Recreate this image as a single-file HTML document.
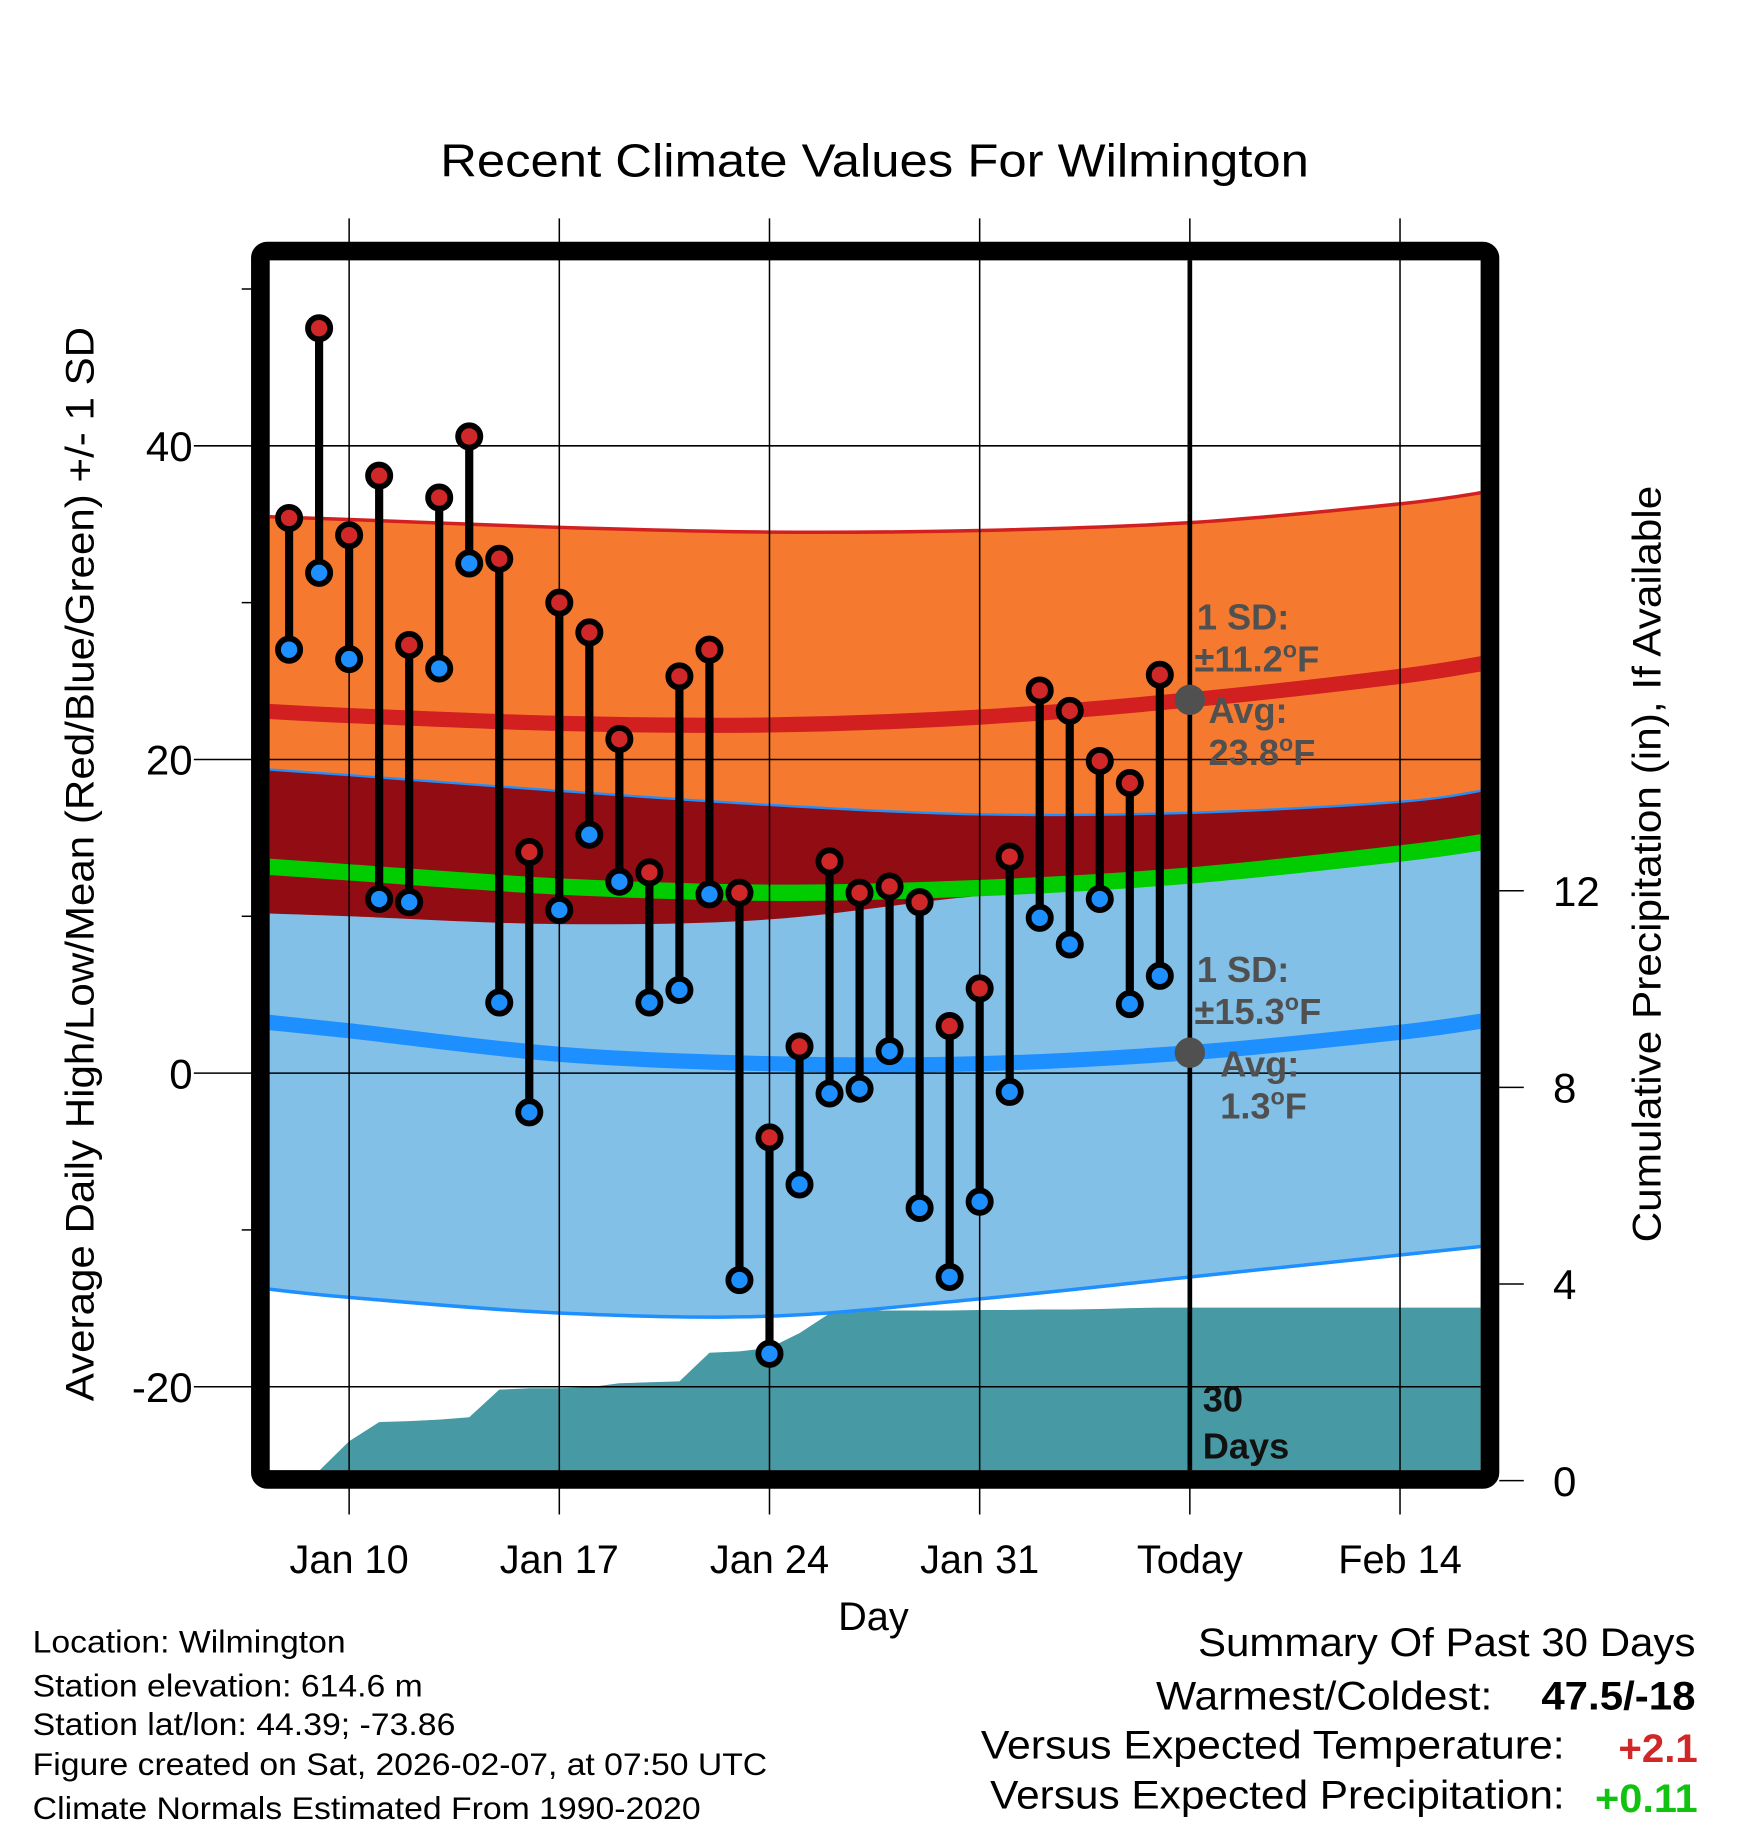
<!DOCTYPE html>
<html><head><meta charset="utf-8"><style>
html,body{margin:0;padding:0;background:#fff}
svg{display:block;font-family:"Liberation Sans",Arial,sans-serif}
</style></head><body>
<svg id="chart" width="1748" height="1828" viewBox="0 0 1497 1565.5" preserveAspectRatio="none" xmlns="http://www.w3.org/2000/svg">
<defs><clipPath id="plotclip"><rect x="231" y="223" width="1037" height="1036"/></clipPath></defs>
<rect x="0" y="0" width="1497" height="1566" fill="#fff"/>
<text x="749" y="151" font-size="40" text-anchor="middle" textLength="744" lengthAdjust="spacingAndGlyphs">Recent Climate Values For Wilmington</text>
<g id="fills" clip-path="url(#plotclip)"></g>
<g id="grid"></g>
<g id="marks" clip-path="url(#plotclip)"></g>
<g id="annot"></g>
<rect x="223" y="215" width="1053" height="1052" rx="6" fill="none" stroke="#000" stroke-width="16"/>
<g id="axes"></g>
<text x="748" y="1396" font-size="34" text-anchor="middle">Day</text>
<text transform="translate(80,740) rotate(-90)" font-size="34" text-anchor="middle" textLength="920" lengthAdjust="spacingAndGlyphs">Average Daily High/Low/Mean (Red/Blue/Green) +/- 1 SD</text>
<text transform="translate(1422,740) rotate(-90)" font-size="34" text-anchor="middle" textLength="648" lengthAdjust="spacingAndGlyphs">Cumulative Precipitation (in), If Available</text>
<g font-size="27">
<text x="28" y="1415" textLength="268" lengthAdjust="spacingAndGlyphs">Location: Wilmington</text>
<text x="28" y="1453" textLength="334" lengthAdjust="spacingAndGlyphs">Station elevation: 614.6 m</text>
<text x="28" y="1486" textLength="362" lengthAdjust="spacingAndGlyphs">Station lat/lon: 44.39; -73.86</text>
<text x="28" y="1520" textLength="629" lengthAdjust="spacingAndGlyphs">Figure created on Sat, 2026-02-07, at 07:50 UTC</text>
<text x="28" y="1558" textLength="572" lengthAdjust="spacingAndGlyphs">Climate Normals Estimated From 1990-2020</text>
</g>
<g font-size="34">
<text x="1452" y="1418" text-anchor="end" textLength="426" lengthAdjust="spacingAndGlyphs">Summary Of Past 30 Days</text>
<text x="1278" y="1464" text-anchor="end" textLength="288" lengthAdjust="spacingAndGlyphs">Warmest/Coldest:</text>
<text x="1452" y="1464" text-anchor="end" font-weight="bold" textLength="132" lengthAdjust="spacingAndGlyphs">47.5/-18</text>
<text x="1340" y="1506" text-anchor="end" textLength="500" lengthAdjust="spacingAndGlyphs">Versus Expected Temperature:</text>
<text x="1454" y="1509" text-anchor="end" font-weight="bold" fill="#d02828" textLength="68" lengthAdjust="spacingAndGlyphs">+2.1</text>
<text x="1340" y="1549" text-anchor="end" textLength="492" lengthAdjust="spacingAndGlyphs">Versus Expected Precipitation:</text>
<text x="1454" y="1552" text-anchor="end" font-weight="bold" fill="#11c211" textLength="88" lengthAdjust="spacingAndGlyphs">+0.11</text>
</g>
</svg>
<script>
// ---- data ----
const obsDays = ["Jan 8","Jan 9","Jan 10","Jan 11","Jan 12","Jan 13","Jan 14","Jan 15","Jan 16","Jan 17","Jan 18","Jan 19","Jan 20","Jan 21","Jan 22","Jan 23","Jan 24","Jan 25","Jan 26","Jan 27","Jan 28","Jan 29","Jan 30","Jan 31","Feb 1","Feb 2","Feb 3","Feb 4","Feb 5","Feb 6"];
const highs = [35.4,47.5,34.3,38.1,27.3,36.7,40.6,32.8,14.1,30.0,28.1,21.3,12.8,25.3,27.0,11.5,-4.1,1.7,13.5,11.5,11.9,10.9,3.0,5.4,13.8,24.4,23.1,19.9,18.5,25.4];
const lows = [27.0,31.9,26.4,11.1,10.9,25.8,32.5,4.5,-2.5,10.4,15.2,12.2,4.5,5.3,11.4,-13.2,-17.9,-7.1,-1.3,-1.0,1.4,-8.6,-13.0,-8.2,-1.2,9.9,8.2,11.1,4.4,6.2];
const precip = [0,0.2,0.8,1.19,1.21,1.24,1.29,1.85,1.88,1.88,1.9,1.98,2.0,2.02,2.6,2.63,2.7,3.0,3.4,3.46,3.46,3.46,3.46,3.47,3.47,3.48,3.48,3.49,3.51,3.52];
const normDays = [-3,0,7,14,21,28,35,38];
const highMean = [23.1,22.8,22.3,22.2,22.7,23.8,25.3,26.2];
const highUpper = [35.5,35.3,34.8,34.5,34.6,35.1,36.3,37.1];
const highLower = [10.2,10.0,9.5,9.8,11.3,12.1,13.5,14.3];
const meanLine = [13.2,12.8,11.9,11.5,11.8,12.6,14.0,14.8];
const lowMean = [3.3,2.7,1.2,0.6,0.6,1.3,2.6,3.4];
const lowUpper = [19.4,19.0,18.0,17.1,16.5,16.6,17.3,18.1];
const lowLower = [-13.7,-14.3,-15.3,-15.5,-14.4,-13.0,-11.6,-11.0];
const xTickLabels = ["Jan 10","Jan 17","Jan 24","Jan 31","Today","Feb 14"];
const xTickDays = [0,7,14,21,28,35];
const yTicks = [-20,0,20,40];
const yMinor = [-10,10,30,50];
const pTicks = [0,4,8,12];
const todayDay = 28;

// ---- axes ----
const X = d => 299 + d*25.714;
const Y = v => 919 - v*13.43;
const P = v => 1268 - v*42.1;
const NS = "http://www.w3.org/2000/svg";
function mk(tag, parent, attrs){const e=document.createElementNS(NS,tag);for(const k in attrs)e.setAttribute(k,attrs[k]);parent.appendChild(e);return e;}
const fills=document.getElementById('fills'), grid=document.getElementById('grid'), marks=document.getElementById('marks'), axes=document.getElementById('axes'), annot=document.getElementById('annot');

function smooth(pts, start){
  let s = start ? "M"+pts[0][0]+","+pts[0][1] : "L"+pts[0][0]+","+pts[0][1];
  for(let i=0;i<pts.length-1;i++){
    const p0=pts[Math.max(0,i-1)], p1=pts[i], p2=pts[i+1], p3=pts[Math.min(pts.length-1,i+2)];
    const c1x=p1[0]+(p2[0]-p0[0])/6, c1y=p1[1]+(p2[1]-p0[1])/6;
    const c2x=p2[0]-(p3[0]-p1[0])/6, c2y=p2[1]-(p3[1]-p1[1])/6;
    s+="C"+c1x+","+c1y+" "+c2x+","+c2y+" "+p2[0]+","+p2[1];
  }
  return s;
}
function pts(arr){return normDays.map((d,i)=>[X(d),Y(arr[i])]);}
function band(up, lo){return smooth(pts(up),true)+smooth(pts(lo).reverse(),false)+"Z";}
function line(arr){return smooth(pts(arr),true);}

let e;
e=mk('path',fills,{d:band(highUpper,highLower),fill:'#f57a2f'});


e=mk('path',fills,{d:band(lowUpper,lowLower),fill:'#82c0e8'});


e=mk('path',fills,{d:band(lowUpper,highLower),fill:'#920c14'});


let pd="M"+X(-1.95)+","+P(0);
obsDays.forEach((n,i)=>{pd+="L"+X(i-2)+","+P(precip[i]);});
pd+="L"+X(38)+","+P(precip[precip.length-1])+"L"+X(38)+","+P(0)+"Z";
e=mk('path',fills,{d:pd,fill:'#4799a3'});


e=mk('path',fills,{d:line(highUpper),fill:'none',stroke:'#d22020','stroke-width':3});


e=mk('path',fills,{d:line(lowUpper),fill:'none',stroke:'#1e8fff','stroke-width':2});


e=mk('path',fills,{d:line(lowLower),fill:'none',stroke:'#1e8fff','stroke-width':3});


e=mk('path',fills,{d:line(highMean),fill:'none',stroke:'#d22020','stroke-width':13});


e=mk('path',fills,{d:line(meanLine),fill:'none',stroke:'#00cc00','stroke-width':14});


e=mk('path',fills,{d:line(lowMean),fill:'none',stroke:'#1e8fff','stroke-width':13});



xTickDays.forEach((d,i)=>{
  e=mk('line',grid,{x1:X(d),x2:X(d),y1:187,y2:1297,stroke:'#000','stroke-width':1.3});
  
  
  e=mk('text',axes,{x:X(d),y:1347,'font-size':34,'text-anchor':'middle'});
  e.textContent=xTickLabels[i];
  
  
});
yTicks.forEach(v=>{
  e=mk('line',grid,{x1:166,x2:1268,y1:Y(v),y2:Y(v),stroke:'#000','stroke-width':1.3});
  
  
  e=mk('text',axes,{x:165,y:Y(v)+13,'font-size':36,'text-anchor':'end'});
  e.textContent=String(v);
  
  
});
yMinor.forEach(v=>{
  e=mk('line',axes,{x1:207,x2:216,y1:Y(v),y2:Y(v),stroke:'#000','stroke-width':1.3});
  
  
});
pTicks.forEach(v=>{
  e=mk('line',axes,{x1:1284,x2:1305,y1:P(v),y2:P(v),stroke:'#000','stroke-width':1.3});
  
  
  e=mk('text',axes,{x:1330,y:P(v)+13,'font-size':36,'text-anchor':'start'});
  e.textContent=String(v);
  
  
});
e=mk('line',grid,{x1:X(todayDay),x2:X(todayDay),y1:223,y2:1259,stroke:'#000','stroke-width':4});



obsDays.forEach((n,i)=>{
  const x=X(i-2);
  e=mk('line',marks,{x1:x,x2:x,y1:Y(highs[i]),y2:Y(lows[i]),stroke:'#000','stroke-width':7});
  
  
});
obsDays.forEach((n,i)=>{
  const x=X(i-2);
  e=mk('circle',marks,{cx:x,cy:Y(highs[i]),r:9.5,fill:'#d02828',stroke:'#000','stroke-width':5});
  
  
  e=mk('circle',marks,{cx:x,cy:Y(lows[i]),r:9.5,fill:'#1e8fff',stroke:'#000','stroke-width':5});
  
  
});

e=mk('circle',annot,{cx:X(todayDay),cy:Y(23.8),r:13,fill:'#505050'});


e=mk('circle',annot,{cx:X(todayDay),cy:Y(1.3),r:13,fill:'#505050'});


const notes=[["1 SD:","",1025,539],["±11.2","F",1023,575],["Avg:","",1035,619],["23.8","F",1035,655],["1 SD:","",1025,841],["±15.3","F",1023,877],["Avg:","",1045,922],["1.3","F",1045,958]];
notes.forEach(t=>{
  e=mk('text',annot,{x:t[2],y:t[3],'font-size':31,'font-weight':'bold',fill:'#505050'});
  
  
  e.appendChild(document.createTextNode(t[0]));
  if(t[1]){
    const s=mk('tspan',e,{'font-size':20,dy:-12});
    s.textContent='o';
    const f=mk('tspan',e,{dy:12});
    f.textContent=t[1];
  }
});
[["30",1030,1209],["Days",1030,1249]].forEach(t=>{
  e=mk('text',annot,{x:t[1],y:t[2],'font-size':31,'font-weight':'bold',fill:'#111'});
  e.textContent=t[0];
  
  
});
</script>
</body></html>
